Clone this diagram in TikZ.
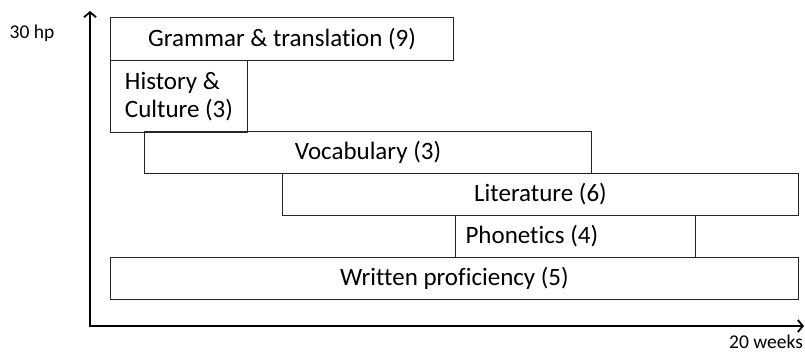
\documentclass[tikz,border=0pt]{standalone}
\usepackage{fontspec}
\setmainfont[RawFeature={-liga}]{Carlito}
\usetikzlibrary{arrows.meta}
\begin{document}
\begin{tikzpicture}[
    x=1pt, y=-1pt,
    bar/.style={draw=black!85, line width=1pt, inner sep=0pt, anchor=north west},
    axis/.style={black, line width=1.8pt},
    tick_label/.style={font=\fontsize{19.5}{22}\selectfont},
    font=\fontsize{25}{28}\selectfont
]
\useasboundingbox (0,0) rectangle (805,353);

% --- Axes ---
\coordinate (origin) at (90,326);
\coordinate (ytop) at (90,11);
\coordinate (xend) at (804,326);
\draw[axis, {Straight Barb[length=5pt, width=12pt]}-{Straight Barb[length=5pt, width=12pt]}] (ytop) -- (origin) -- (xend);

% Axis labels
\node[tick_label] (hp) at (32,33) {30 hp};
\node[tick_label] (weeks) at (766,342) {20 weeks};

% --- Course blocks ---
\node[bar, minimum width=343pt, minimum height=43pt] (gram) at (110,17) {Grammar \& translation (9)};
\node[bar, minimum width=137pt, minimum height=72pt, align=left] (hist) at (110,60) {History \&\\Culture (3)};
\node[bar, minimum width=447pt, minimum height=42pt] (vocab) at (144,131) {Vocabulary (3)};
\node[bar, minimum width=516pt, minimum height=42pt] (lit) at (282,173) {Literature (6)};
\node[bar, minimum width=240pt, minimum height=42pt] (phon) at (455,215) {};
\node[anchor=west] (phonlabel) at ([xshift=7pt]phon.west) {Phonetics (4)};
\node[bar, minimum width=688pt, minimum height=42pt] (writ) at (110,257) {Written proficiency (5)};

\end{tikzpicture}
\end{document}
